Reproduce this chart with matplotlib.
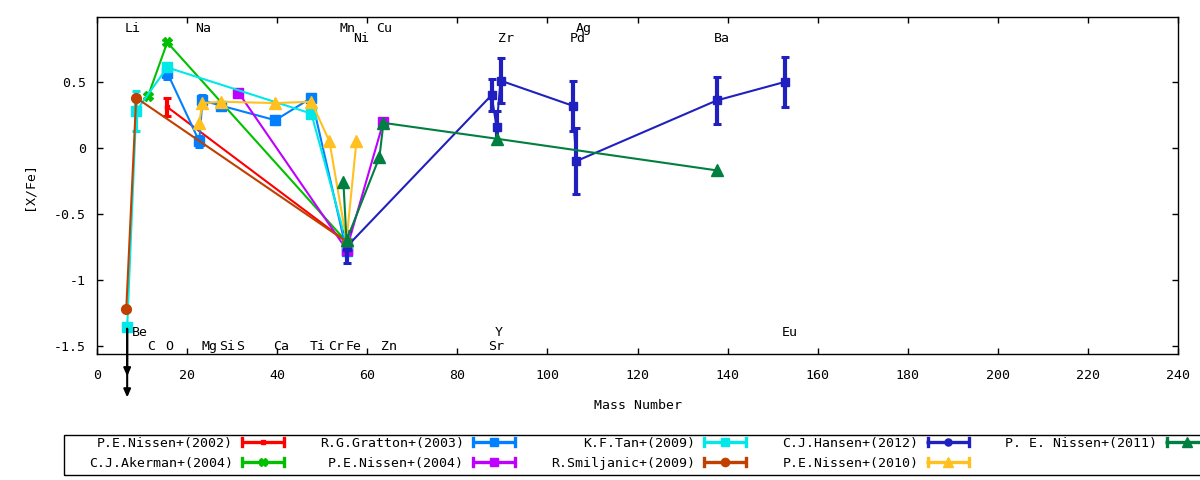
import matplotlib
matplotlib.use("Agg")
import matplotlib.pyplot as plt
from matplotlib.lines import Line2D
from matplotlib.patches import Rectangle
from matplotlib.legend_handler import HandlerBase

plt.rcParams['font.family'] = ['DejaVu Sans Mono', 'DejaVu Sans']
plt.rcParams['axes.unicode_minus'] = False
FS = 9.5

# ---------------- data ----------------
nissen2002_x = [15.6, 55.4]
nissen2002_y = [0.31, -0.71]
nissen2002_err = [0.07, 0.0]

akerman2004_x = [11.3, 15.6, 55.4]
akerman2004_y = [0.39, 0.80, -0.71]

gratton2003_x = [15.6, 22.7, 23.4, 27.6, 39.6, 47.6, 55.4]
gratton2003_y = [0.57, 0.05, 0.36, 0.32, 0.21, 0.38, -0.78]
gratton2003_err = [0.05, 0.04, 0.04, 0.03, 0.03, 0.03, 0.02]

nissen2004_x = [31.4, 55.4, 63.6]
nissen2004_y = [0.42, -0.77, 0.20]

tan2009_x = [6.7, 8.7, 15.6, 47.6, 55.4]
tan2009_y = [-1.36, 0.28, 0.61, 0.26, -0.72]
tan2009_err = [0.0, 0.15, 0.02, 0.02, 0.0]

smiljanic2009_x = [6.5, 8.7, 55.4]
smiljanic2009_y = [-1.22, 0.38, -0.71]

hansen2012_x = [55.4, 87.6, 88.7, 89.6, 105.6, 106.4, 137.6, 152.7]
hansen2012_y = [-0.75, 0.40, 0.16, 0.51, 0.32, -0.10, 0.36, 0.50]
hansen2012_err = [0.12, 0.12, 0.12, 0.17, 0.19, 0.25, 0.18, 0.19]

nissen2010_x = [22.7, 23.4, 27.6, 39.6, 47.6, 51.6, 55.4, 57.6]
nissen2010_y = [0.19, 0.34, 0.35, 0.34, 0.35, 0.05, -0.70, 0.05]

nissen2011_x = [54.7, 55.4, 62.7, 63.6, 88.7, 137.6]
nissen2011_y = [-0.26, -0.70, -0.07, 0.19, 0.07, -0.17]

# upper-limit arrow (Be)
limit_x = 6.7
limit_y0 = -1.37
limit_y1 = [-1.73, -1.89]

elem_names = ['Li', 'Na', 'Mn', 'Cu', 'Ag',
              'Ni', 'Zr', 'Pd', 'Ba',
              'Be', 'Y', 'Eu',
              'C', 'O', 'Mg', 'Si', 'S', 'Ca', 'Ti', 'Cr', 'Fe', 'Zn', 'Sr']
elem_x = [7.8, 23.6, 55.6, 63.8, 108.0,
          58.7, 90.7, 106.7, 138.7,
          9.6, 89.1, 153.8,
          12.0, 16.0, 24.9, 28.9, 31.8, 40.9, 48.9, 53.1, 56.9, 64.9, 88.7]
elem_y = [0.875] * 5 + [0.80] * 4 + [-1.425] * 3 + [-1.53] * 11

xticks = [0, 20, 40, 60, 80, 100, 120, 140, 160, 180, 200, 220, 240]
yticks = [-1.5, -1, -0.5, 0, 0.5]
yticklabels = ['-1.5', '-1', '-0.5', '0', '0.5']

# ---------------- figure ----------------
fig = plt.figure(figsize=(12, 4.8), dpi=100)
ax = fig.add_axes([97 / 1200, 1 - 354 / 480, (1178 - 97) / 1200, (354 - 17) / 480])

LW = 1.5
EKW = dict(elinewidth=3, capsize=3.2, capthick=2.2)

series = [
    ('P.E.Nissen+(2002)', '#FF0000', 's', 3, nissen2002_x, nissen2002_y, nissen2002_err),
    ('C.J.Akerman+(2004)', '#00C000', 'X', 7, akerman2004_x, akerman2004_y, None),
    ('R.G.Gratton+(2003)', '#0080FF', 's', 7, gratton2003_x, gratton2003_y, gratton2003_err),
    ('P.E.Nissen+(2004)', '#C000FF', 's', 7, nissen2004_x, nissen2004_y, None),
    ('K.F.Tan+(2009)', '#00E8E8', 's', 7, tan2009_x, tan2009_y, tan2009_err),
    ('R.Smiljanic+(2009)', '#C04000', 'o', 7, smiljanic2009_x, smiljanic2009_y, None),
    ('C.J.Hansen+(2012)', '#2020C0', 's', 5.5, hansen2012_x, hansen2012_y, hansen2012_err),
    ('P.E.Nissen+(2010)', '#FFC020', '^', 8, nissen2010_x, nissen2010_y, None),
    ('P. E. Nissen+(2011)', '#008040', '^', 8, nissen2011_x, nissen2011_y, None),
]
legend_markers = {'C.J.Hansen+(2012)': ('o', 6)}

handles = []
labels = []
for i, (lab, c, m, ms, xs, ys, err) in enumerate(series):
    ax.errorbar(xs, ys, yerr=err, color=c, marker=m, ms=ms, lw=LW,
                mec=c, mfc=c, zorder=2 + i * 0.1, **EKW)
    lm, lms = legend_markers.get(lab, (m, ms))
    h = Line2D([], [], color=c, marker=lm, ms=lms)
    handles.append(h)
    labels.append(lab)

for yy in limit_y1:
    ax.annotate('', xy=(limit_x, yy), xytext=(limit_x, limit_y0),
                arrowprops=dict(arrowstyle='-|>,head_width=0.22,head_length=0.5',
                                color='black', lw=1.5, shrinkA=0, shrinkB=0),
                annotation_clip=False, fontsize=FS, zorder=5)

for name, xx, yy in zip(elem_names, elem_x, elem_y):
    ax.text(xx, yy, name, ha='center', va='baseline', fontsize=FS, zorder=6)

ax.set_xlim(0, 240)
ax.set_ylim(-1.561, 0.992)
ax.set_xticks(xticks)
ax.set_xticklabels([str(t) for t in xticks])
ax.set_yticks(yticks)
ax.set_yticklabels(yticklabels)
ax.tick_params(direction='in', length=4.5, width=1, labelsize=FS,
               top=True, right=True)
ax.tick_params(axis='x', pad=11)
ax.tick_params(axis='y', pad=8)
for s in ax.spines.values():
    s.set_linewidth(1)
ax.set_xlabel('Mass Number', fontsize=FS, labelpad=12)
ax.set_ylabel('[X/Fe]', fontsize=FS, labelpad=13)


class HandlerGP(HandlerBase):
    def create_artists(self, legend, orig_handle, xdescent, ydescent,
                       width, height, fontsize, trans):
        c = orig_handle.get_color()
        x0 = -xdescent
        x1 = -xdescent + width
        ym = -ydescent + height / 2.0
        hh = height * 0.45
        arts = [
            Line2D([x0, x1], [ym, ym], color=c, lw=2.4, solid_capstyle='butt'),
            Line2D([x0 + 1, x0 + 1], [ym - hh, ym + hh], color=c, lw=2.4),
            Line2D([x1 - 1, x1 - 1], [ym - hh, ym + hh], color=c, lw=2.4),
            Line2D([(x0 + x1) / 2], [ym], color=c, marker=orig_handle.get_marker(),
                   ms=orig_handle.get_markersize() * 0.85, mec=c, mfc=c, lw=0),
        ]
        for a in arts:
            a.set_transform(trans)
        return arts


leg = fig.legend(handles, labels, loc='upper left',
                 bbox_to_anchor=(89 / 1200, 1 - 436.5 / 480),
                 ncol=5, markerfirst=False, frameon=False, fontsize=FS,
                 borderpad=0, borderaxespad=0, handlelength=3.35,
                 handletextpad=0.6, columnspacing=2.65, labelspacing=0.55,
                 handler_map={Line2D: HandlerGP()})

fig.patches.append(Rectangle((64 / 1200, 1 - 475 / 480), (1260 - 64) / 1200, 40 / 480,
                             transform=fig.transFigure, fill=False,
                             edgecolor='black', lw=1, clip_on=False))

fig.savefig('out.png', dpi=100)
